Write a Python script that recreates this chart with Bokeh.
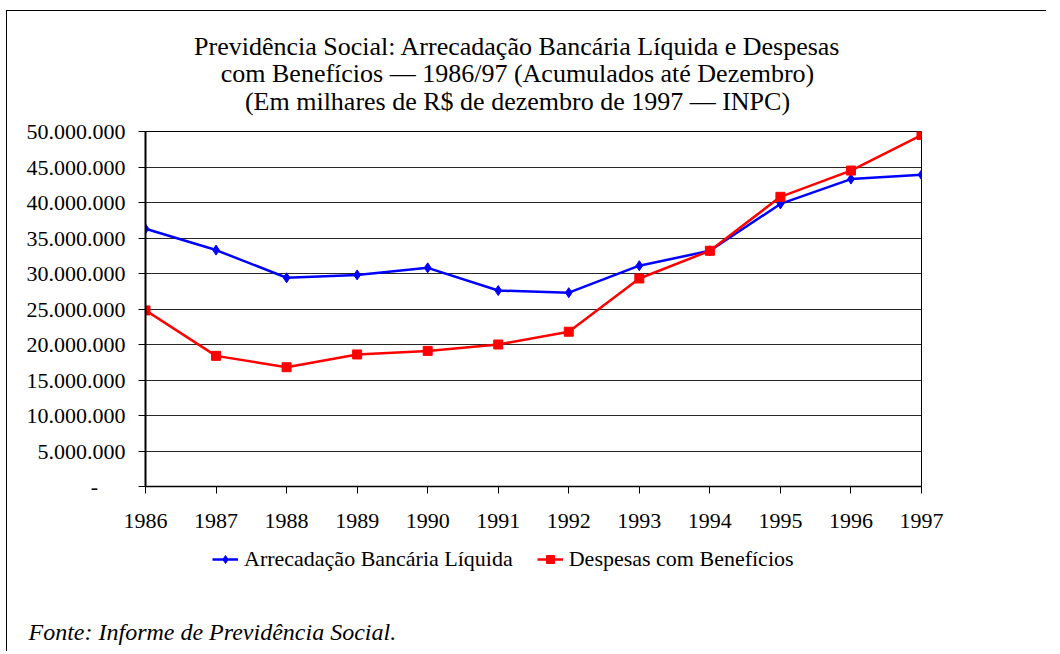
from bokeh.plotting import figure
from bokeh.layouts import column
from bokeh.models import FixedTicker, Legend, LegendItem, Range1d, Label
from bokeh.embed import file_html
from bokeh.resources import INLINE

years = [1986, 1987, 1988, 1989, 1990, 1991, 1992, 1993, 1994, 1995, 1996, 1997]
arrecadacao = [36300000, 33300000, 29400000, 29800000, 30800000, 27600000,
               27300000, 31100000, 33200000, 39800000, 43300000, 43900000]
despesas = [24800000, 18400000, 16800000, 18600000, 19100000, 20000000,
            21800000, 29300000, 33200000, 40800000, 44500000, 49500000]
y_ticks = [0, 5000000, 10000000, 15000000, 20000000, 25000000,
           30000000, 35000000, 40000000, 45000000, 50000000]
title_lines = [
    "Previdência Social: Arrecadação Bancária Líquida e Despesas",
    "com Benefícios — 1986/97 (Acumulados até Dezembro)",
    "(Em milhares de R$ de dezembro de 1997 — INPC)",
]
legend_labels = ["Arrecadação Bancária Líquida", "Despesas com Benefícios"]
fonte = "Fonte: Informe de Previdência Social."

FONT = "Liberation Serif"
BLUE = "#0000ff"
RED = "#ff0000"


def strip(height, margin, styles):
    f = figure(width=1040, height=height, output_backend="svg", toolbar_location=None,
               x_axis_type=None, y_axis_type=None,
               x_range=Range1d(years[0], years[-1]), y_range=Range1d(-2, -1),
               min_border=0)
    f.frame_align = False
    f.margin = margin
    f.styles = styles
    f.title.visible = False
    f.outline_line_color = None
    f.xgrid.grid_line_color = None
    f.ygrid.grid_line_color = None
    return f


# Title strip
t = strip(106, (10, 0, 0, 6), {"border-top": "1px solid black",
                               "border-left": "1px solid black"})
for line, ty in zip(title_lines, [71, 44, 16]):
    t.add_layout(Label(x=510, y=ty, x_units="screen", y_units="screen", text=line,
                       text_font=FONT, text_font_size="26px", text_color="black",
                       text_align="center", text_baseline="middle"))

# Main chart
p = figure(width=1040, height=425, output_backend="svg", toolbar_location=None,
           x_range=Range1d(years[0], years[-1]), y_range=Range1d(y_ticks[0], y_ticks[-1]),
           min_border_left=138, min_border_right=126, min_border_top=15,
           min_border_bottom=55)
p.frame_align = False
p.margin = (0, 0, 0, 6)
p.styles = {"border-left": "1px solid black"}
p.title.visible = False
p.outline_line_color = "black"
p.outline_line_width = 1

p.xaxis.ticker = FixedTicker(ticks=years)
p.yaxis.ticker = FixedTicker(ticks=y_ticks)
p.yaxis.major_label_overrides = {
    v: ("-" + "\u00a0" * 5 if v == 0 else f"{v:,}".replace(",", ".")) for v in y_ticks}
p.xaxis.major_label_overrides = {y: str(y) for y in years}
for ax in (p.xaxis[0], p.yaxis[0]):
    ax.axis_line_color = "black"
    ax.axis_line_width = 2
    ax.major_tick_line_color = "black"
    ax.major_tick_in = 0
    ax.major_tick_out = 7
    ax.minor_tick_line_color = None
    ax.major_label_text_font = FONT
    ax.major_label_text_font_size = "22px"
    ax.major_label_text_color = "black"
p.xaxis.major_label_standoff = 20
p.yaxis.major_label_standoff = 13
p.xaxis.axis_line_width = 1.5

p.xgrid.grid_line_color = None
p.ygrid.grid_line_color = "black"
p.ygrid.grid_line_alpha = 0.85
p.ygrid.grid_line_width = 1

p.line(years, arrecadacao, line_color=BLUE, line_width=2.5)
p.scatter(years, arrecadacao, marker="diamond", size=10, fill_color=BLUE, line_color=BLUE)
p.line(years, despesas, line_color=RED, line_width=2.5)
p.scatter(years, despesas, marker="square", size=9, fill_color=RED, line_color=RED)

# Legend and source note strip (legend glyphs come from off-screen copies of the series)
q = strip(110, (0, 0, 0, 6), {"border-left": "1px solid black"})
l1 = q.line(years, arrecadacao, line_color=BLUE, line_width=2.5)
s1 = q.scatter(years, arrecadacao, marker="diamond", size=8, fill_color=BLUE, line_color=BLUE)
l2 = q.line(years, despesas, line_color=RED, line_width=2.5)
s2 = q.scatter(years, despesas, marker="square", size=7, fill_color=RED, line_color=RED)

legend = Legend(items=[LegendItem(label=legend_labels[0], renderers=[l1, s1]),
                       LegendItem(label=legend_labels[1], renderers=[l2, s2])],
                orientation="horizontal", location=(205, 79),
                label_text_font=FONT, label_text_font_size="22px",
                label_text_color="black", border_line_color=None,
                background_fill_alpha=0, glyph_width=26, glyph_height=20, spacing=24,
                label_standoff=6, padding=4, margin=0)
q.add_layout(legend, "center")

q.add_layout(Label(x=21, y=20, x_units="screen", y_units="screen", text=fonte,
                   text_font=FONT, text_font_size="24px", text_font_style="italic",
                   text_color="black", text_baseline="middle"))

layout = column(t, p, q, spacing=0)
open("out.html", "w").write(file_html(layout, INLINE))
